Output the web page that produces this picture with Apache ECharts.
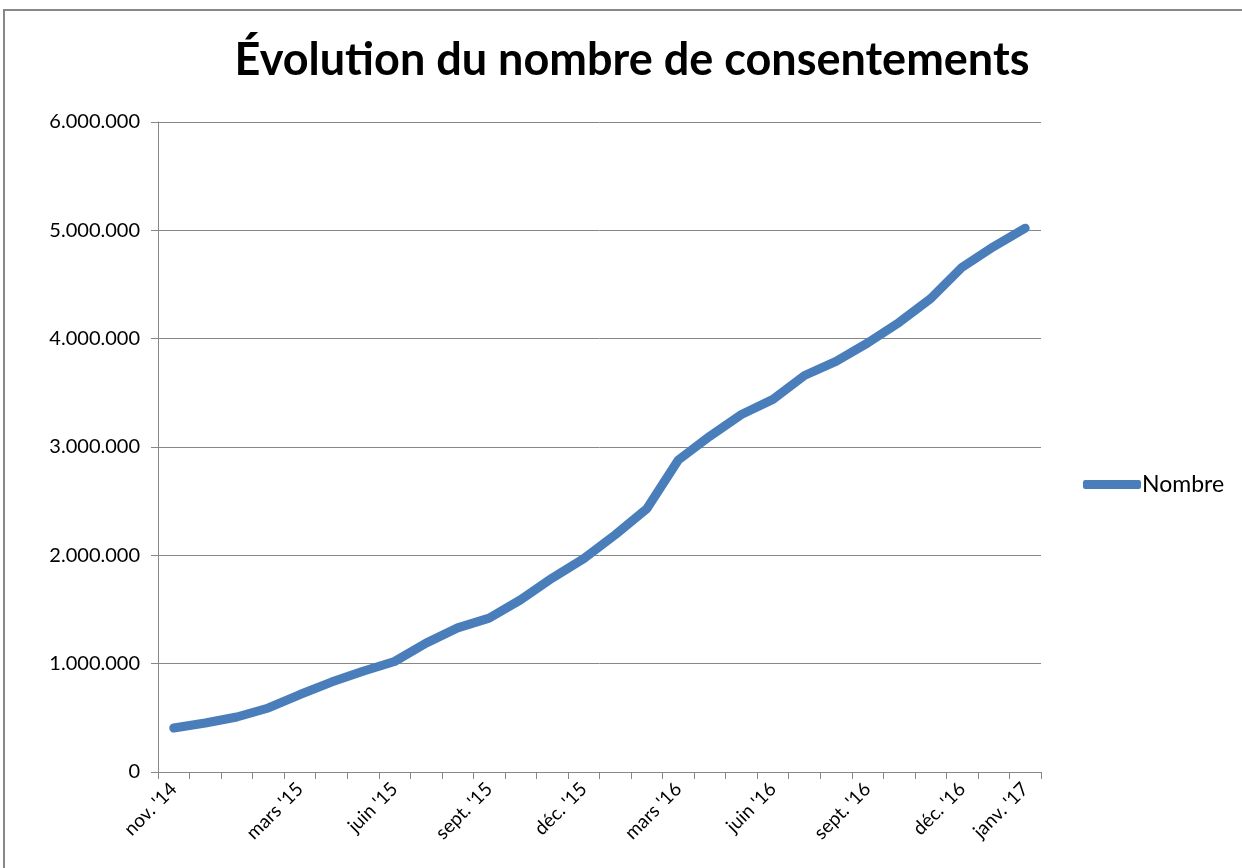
<!DOCTYPE html>
<html>
<head>
<meta charset="utf-8">
<script src="https://cdn.jsdelivr.net/npm/echarts@6/dist/echarts.min.js"></script>
<style>
  html, body { margin: 0; padding: 0; background: #fff; }
  #chart { width: 1242px; height: 868px; }
</style>
</head>
<body>
<div id="chart"></div>
<script>
// mois (axe des catégories)
var mois = [
  "nov. '14", "déc. '14", "janv. '15", "févr. '15", "mars '15", "avr. '15", "mai '15",
  "juin '15", "juil. '15", "août '15", "sept. '15", "oct. '15", "nov. '15", "déc. '15",
  "janv. '16", "févr. '16", "mars '16", "avr. '16", "mai '16", "juin '16", "juil. '16",
  "août '16", "sept. '16", "oct. '16", "nov. '16", "déc. '16", "janv. '17", "janv. '17"
];
// nombre de consentements
var nombre = [
  406000, 452000, 508000, 591000, 715000, 830000, 930000,
  1020000, 1190000, 1330000, 1420000, 1590000, 1790000, 1970000,
  2190000, 2430000, 2880000, 3100000, 3300000, 3440000, 3660000,
  3790000, 3960000, 4150000, 4370000, 4660000, 4850000, 5020000
];
// index des libellés affichés sur l'axe x
var libellesVisibles = [0, 4, 7, 10, 13, 16, 19, 22, 25, 27];

var formatNombre = function (v) {
  return String(v).replace(/\B(?=(\d{3})+(?!\d))/g, ".");
};

var myChart = echarts.init(document.getElementById("chart"));
var option = {
  backgroundColor: "#ffffff",
  animation: false,
  textStyle: { fontFamily: "Lato", color: "#000" },
  title: {
    text: "Évolution du nombre de consentements",
    left: 627,
    textAlign: "center",
    top: 33,
    textStyle: { fontFamily: "Lato", fontWeight: "bold", fontSize: 45, color: "#000" }
  },
  graphic: [
    {
      type: "rect",
      shape: { x: 4, y: 10, width: 1300, height: 1000 },
      style: { fill: null, stroke: "#878787", lineWidth: 2 },
      silent: true
    }
  ],
  legend: {
    left: 1078,
    top: 468,
    icon: "roundRect",
    itemWidth: 58,
    itemHeight: 9,
    itemGap: 0,
    textStyle: { fontSize: 23, color: "#000", padding: [0, 0, 0, -4] },
    data: ["Nombre"]
  },
  grid: { left: 158, right: 201, top: 122, bottom: 96, containLabel: false },
  xAxis: {
    type: "category",
    data: mois,
    boundaryGap: true,
    axisLine: { lineStyle: { color: "#878787", width: 1 } },
    axisTick: { show: true, interval: 0, length: 7, lineStyle: { color: "#878787" } },
    axisLabel: {
      rotate: 45,
      margin: 14,
      fontSize: 19,
      color: "#000",
      interval: function (i) { return libellesVisibles.indexOf(i) >= 0; }
    }
  },
  yAxis: {
    type: "value",
    min: 0,
    max: 6000000,
    interval: 1000000,
    axisLine: { show: true, lineStyle: { color: "#878787" } },
    axisTick: { show: true, length: 7, lineStyle: { color: "#878787" } },
    axisLabel: { fontSize: 20, color: "#000", margin: 18, formatter: formatNombre },
    splitLine: { lineStyle: { color: "#878787", width: 1 } }
  },
  series: [
    {
      name: "Nombre",
      type: "line",
      data: nombre,
      symbol: "none",
      smooth: false,
      color: "#4a7ebb",
      lineStyle: { width: 9, color: "#4a7ebb", cap: "round", join: "round" }
    }
  ]
};
myChart.setOption(option);
</script>
</body>
</html>
